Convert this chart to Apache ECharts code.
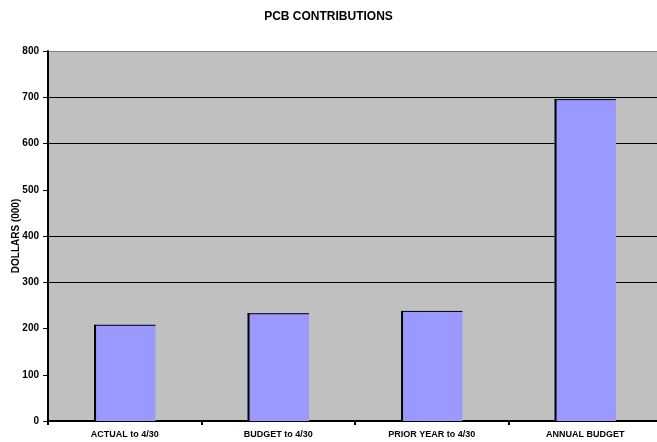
<!DOCTYPE html>
<html><head><meta charset="utf-8">
<script src="https://cdn.jsdelivr.net/npm/echarts@6/dist/echarts.min.js"></script>
<style>html,body{margin:0;padding:0;background:#fff}#c{width:657px;height:442px}</style>
</head><body><div id="c"></div>
<script>
const categories = ['ACTUAL to 4/30', 'BUDGET to 4/30', 'PRIOR YEAR to 4/30', 'ANNUAL BUDGET'];
const values = [208, 233, 238, 696];
const yTicks = [0, 100, 200, 300, 400, 500, 600, 700, 800];

const chart = echarts.init(document.getElementById('c'));
const font = 'Liberation Sans, Arial, sans-serif';
chart.setOption({
  animation: false,
  backgroundColor: '#ffffff',
  title: {
    text: 'PCB CONTRIBUTIONS', left: 'center', top: 6,
    textStyle: { fontFamily: font, fontSize: 12, fontWeight: 'bold', color: '#000' }
  },
  grid: { left: 48, top: 51, width: 614, height: 370, backgroundColor: '#C0C0C0', show: true, borderWidth: 0,
    outerBoundsMode: 'none', containLabel: false },
  xAxis: {
    type: 'category', data: categories,
    axisLine: { lineStyle: { color: '#000', width: 2 } },
    axisTick: { show: true, length: 4, lineStyle: { color: '#000', width: 2 } },
    axisLabel: { fontFamily: font, fontSize: 9, fontWeight: 'bold', color: '#000', margin: 9 },
    splitLine: { show: false }
  },
  yAxis: {
    type: 'value', min: 0, max: 800, interval: 100,
    name: 'DOLLARS (000)', nameLocation: 'middle', nameRotate: 90, nameGap: 27, nameMoveOverlap: false,
    nameTextStyle: { fontFamily: font, fontSize: 10, fontWeight: 'bold', color: '#000' },
    axisLine: { show: true, lineStyle: { color: '#000', width: 2 } },
    axisTick: { show: true, length: 5, lineStyle: { color: '#000', width: 1 } },
    axisLabel: { fontFamily: font, fontSize: 10, fontWeight: 'bold', color: '#000', margin: 9,
      formatter: v => yTicks.includes(v) ? String(v) : '' },
    splitLine: { show: true, lineStyle: { width: 1,
      color: ['transparent', 'transparent', 'transparent', '#000', '#000', 'transparent', '#000', '#000', '#808080'] } }
  },
  series: [{
    type: 'custom',
    data: values.map((v, i) => [i, v]),
    encode: { x: 0, y: 1 },
    renderItem: function (params, api) {
      const top = api.coord([api.value(0), api.value(1)]);
      const base = api.coord([api.value(0), 0]);
      const w = api.size([1, 0])[0] * 0.4;
      const x0 = top[0] - w / 2;
      return {
        type: 'group',
        children: [
          { type: 'rect', shape: { x: x0, y: top[1], width: w, height: base[1] - top[1] },
            style: { fill: '#9999FF' } },
          { type: 'line', shape: { x1: x0 + 1, y1: top[1], x2: x0 + 1, y2: base[1] },
            style: { stroke: '#000', lineWidth: 2 } },
          { type: 'line', shape: { x1: x0, y1: top[1] + 0.5, x2: x0 + w, y2: top[1] + 0.5 },
            style: { stroke: '#000', lineWidth: 1 } }
        ]
      };
    }
  }]
});
</script></body></html>
